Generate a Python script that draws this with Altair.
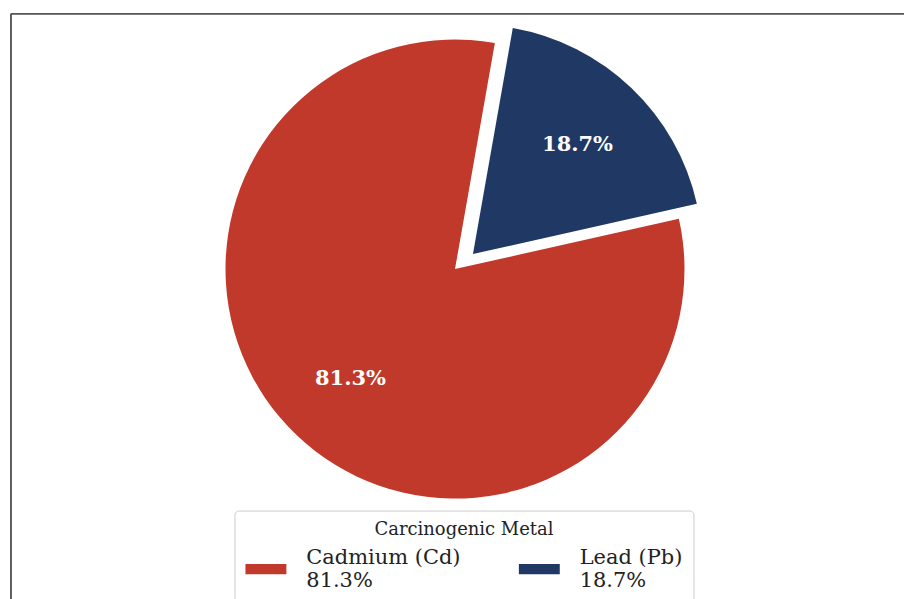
import math
import altair as alt
import pandas as pd

# ---- data ----
metals = ["Cadmium (Cd)", "Lead (Pb)"]
shares = [81.3, 18.7]
clockwise_order = [2, 1]          # Lead slice comes first clockwise from the start angle
slice_colors = ["#c0392b", "#1f3864"]

# ---- layout / style ----
START_DEG = 10
R = 230
CX, CY = 445, 256                 # pie centre inside the view
EXPLODE_X, EXPLODE_Y = 18, -15    # offset of the exploded Lead slice
W, H = 895, 587

df = pd.DataFrame({"metal": metals, "share": shares, "order": clockwise_order})

base = (
    alt.Chart(df)
    .transform_window(cum="sum(share)", sort=[alt.SortField("order")], frame=[None, 0])
    .transform_calculate(
        start="datum.cum - datum.share",
        mid="datum.cum - datum.share / 2",
        pct="format(datum.share, '.1f') + '%'",
        key="datum.metal + '|' + format(datum.share, '.1f') + '%'",
    )
)

theta_scale = alt.Scale(
    domain=[0, 100],
    range=[math.radians(START_DEG), math.radians(START_DEG) + 2 * math.pi],
)

legend = alt.Legend(
    title="Carcinogenic Metal",
    orient="none",
    legendX=224,
    legendY=498,
    direction="horizontal",
    symbolType="M-1,0.29H1V0.78H-1Z",
    symbolSize=1681,
    symbolStrokeWidth=0,
    labelExpr="split(datum.label, '|')",
    labelFont="DejaVu Serif",
    labelFontSize=21,
    labelColor="#222222",
    labelOffset=20,
    labelLimit=400,
    columnPadding=58,
    titleFont="DejaVu Serif",
    titleFontSize=18,
    titleFontWeight="normal",
    titleColor="#222222",
    titleAnchor="middle",
    titlePadding=-2,
    padding=11,
    strokeColor="#cccccc",
    cornerRadius=4,
    fillColor="white",
)

color = alt.Color("key:N", scale=alt.Scale(range=slice_colors), legend=legend)


def arc_layer(name, **offset):
    return (
        base.transform_filter(alt.datum.metal == name)
        .mark_arc(outerRadius=R, **offset)
        .encode(
            theta=alt.Theta("start:Q", scale=theta_scale, stack=False),
            theta2="cum:Q",
            color=color,
            x=alt.value(CX),
            y=alt.value(CY),
        )
    )


def text_layer(name, **offset):
    return (
        base.transform_filter(alt.datum.metal == name)
        .mark_text(
            radius=R * 0.66,
            font="DejaVu Serif",
            fontWeight="bold",
            fontSize=21,
            fill="white",
            **offset,
        )
        .encode(
            theta=alt.Theta("mid:Q", scale=theta_scale, stack=False),
            text="pct:N",
            x=alt.value(CX),
            y=alt.value(CY),
        )
    )


frame_top = alt.Chart(df).mark_rule(color="#555555", strokeWidth=1.5).encode(
    x=alt.value(0), x2=alt.value(W), y=alt.value(0)
)
frame_left = alt.Chart(df).mark_rule(color="#555555", strokeWidth=1.5).encode(
    x=alt.value(0), y=alt.value(0), y2=alt.value(H)
)

chart = (
    alt.layer(
        arc_layer(metals[0]),
        arc_layer(metals[1], xOffset=EXPLODE_X, yOffset=EXPLODE_Y),
        text_layer(metals[0]),
        text_layer(metals[1], xOffset=EXPLODE_X, yOffset=EXPLODE_Y),
        frame_top,
        frame_left,
    )
    .properties(
        width=W,
        height=H,
        padding={"left": 10, "top": 12, "right": 0, "bottom": 0},
        background="white",
    )
    .configure_view(stroke=None)
)

chart.save("out.html", embed_options={"renderer": "svg", "actions": False})
